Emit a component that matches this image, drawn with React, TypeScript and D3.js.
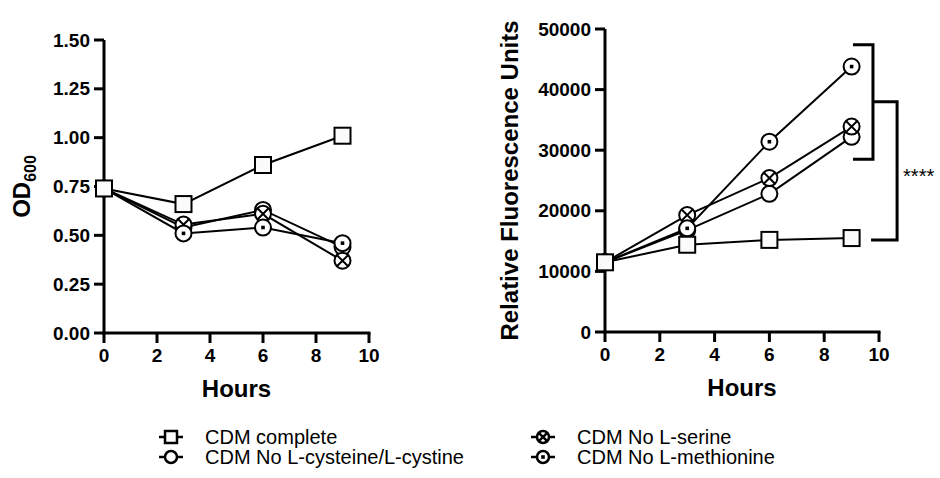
import React, { useRef, useEffect } from "react";
import * as d3 from "d3";

// time points (hours)
const hours = [0, 3, 6, 9];

// OD600 panel
const odComplete = [0.74, 0.66, 0.86, 1.01];
const odNoCys = [0.74, 0.54, 0.63, 0.44];
const odNoSer = [0.74, 0.555, 0.61, 0.37];
const odNoMet = [0.74, 0.51, 0.54, 0.46];

// fluorescence panel
const rfuComplete = [11500, 14400, 15200, 15500];
const rfuNoCys = [11500, 16800, 22800, 32200];
const rfuNoSer = [11500, 19300, 25400, 33900];
const rfuNoMet = [11500, 17100, 31400, 43800];

const hourTicks = [0, 2, 4, 6, 8, 10];
const odTicks = [0, 0.25, 0.5, 0.75, 1.0, 1.25, 1.5];
const rfuTicks = [0, 10000, 20000, 30000, 40000, 50000];

const seriesNames = [
  "CDM complete",
  "CDM No L-cysteine/L-cystine",
  "CDM No L-serine",
  "CDM No L-methionine",
];
const markerTypes = ["square", "circle", "crossed", "dotted"];

// significance brackets (hours / RFU)
const bracketInner = { x0: 9.05, x1: 9.78, yTop: 47400, yBottom: 28500 };
const bracketOuter = { xTop: 9.78, xBottom: 9.71, x1: 10.66, yTop: 38000, yBottom: 15200 };
const sigLabel = "****";

const FONT = "'Liberation Sans', Arial, Helvetica, sans-serif";

function drawMarker(g, type, cx, cy, size, sw = 2) {
  const r = size / 2;
  if (type === "square") {
    g.append("rect")
      .attr("x", cx - r).attr("y", cy - r)
      .attr("width", size).attr("height", size)
      .attr("fill", "#fbfbfb").attr("stroke", "#000").attr("stroke-width", sw);
    return;
  }
  g.append("circle")
    .attr("cx", cx).attr("cy", cy).attr("r", r)
    .attr("fill", "#fff").attr("stroke", "#000").attr("stroke-width", sw);
  if (type === "crossed") {
    const d = r * 0.7;
    g.append("path")
      .attr("d", `M${cx - d},${cy - d}L${cx + d},${cy + d}M${cx - d},${cy + d}L${cx + d},${cy - d}`)
      .attr("stroke", "#000").attr("stroke-width", sw);
  }
  if (type === "dotted") {
    g.append("rect")
      .attr("x", cx - 1.8).attr("y", cy - 1.8)
      .attr("width", 3.6).attr("height", 3.6).attr("fill", "#000");
  }
}

function drawPanel(svg, opts) {
  const { x, y, ticks, fmt, series, yTitle, sub } = opts;
  const g = svg.append("g");
  const [x0, x1] = x.range();
  const [yb, yt] = y.range();

  // axes
  g.append("line").attr("x1", x0).attr("x2", x0).attr("y1", yt).attr("y2", yb + 1.5)
    .attr("stroke", "#000").attr("stroke-width", 3);
  g.append("line").attr("x1", x0 - 1.5).attr("x2", x1 + 1.5).attr("y1", yb).attr("y2", yb)
    .attr("stroke", "#000").attr("stroke-width", 3);

  ticks.forEach((t) => {
    g.append("line").attr("x1", x0 - 10).attr("x2", x0).attr("y1", y(t)).attr("y2", y(t))
      .attr("stroke", "#000").attr("stroke-width", 3);
    g.append("text").attr("x", x0 - 14).attr("y", y(t)).attr("dy", "0.35em")
      .attr("text-anchor", "end").attr("font-family", FONT).attr("font-weight", "bold")
      .attr("font-size", 19).text(fmt(t));
  });

  hourTicks.forEach((t) => {
    g.append("line").attr("x1", x(t)).attr("x2", x(t)).attr("y1", yb).attr("y2", yb + 10)
      .attr("stroke", "#000").attr("stroke-width", 3);
    g.append("text").attr("x", x(t)).attr("y", yb + 29)
      .attr("text-anchor", "middle").attr("font-family", FONT).attr("font-weight", "bold")
      .attr("font-size", 19).text(t);
  });

  g.append("text").attr("x", (x0 + x1) / 2).attr("y", yb + 64)
    .attr("text-anchor", "middle").attr("font-family", FONT).attr("font-weight", "bold")
    .attr("font-size", 24).text("Hours");

  const yt2 = g.append("text")
    .attr("transform", `translate(${opts.titleX},${(yb + yt) / 2}) rotate(-90)`)
    .attr("text-anchor", "middle").attr("font-family", FONT).attr("font-weight", "bold")
    .attr("font-size", 24);
  yt2.append("tspan").text(yTitle);
  if (sub) yt2.append("tspan").attr("font-size", 16).attr("dy", 6).text(sub);

  const line = d3.line().x((d, i) => x(hours[i])).y((d) => y(d));

  // draw order: open, crossed, dotted, then complete on top
  const order = [1, 2, 3, 0];
  order.forEach((si) => {
    g.append("path").datum(series[si]).attr("d", line)
      .attr("fill", "none").attr("stroke", "#000").attr("stroke-width", 2);
  });
  order.forEach((si) => {
    series[si].forEach((v, i) => drawMarker(g, markerTypes[si], x(hours[i]), y(v), 16));
  });
  return g;
}

const App = () => {
  const svgRef = useRef(null);

  useEffect(() => {
    const svg = d3.select(svgRef.current);
    svg.selectAll("*").remove();

    const xL = d3.scaleLinear().domain([0, 10]).range([104, 369]);
    const yL = d3.scaleLinear().domain([0, 1.5]).range([333, 40]);
    drawPanel(svg, {
      x: xL, y: yL, ticks: odTicks, fmt: d3.format(".2f"),
      series: [odComplete, odNoCys, odNoSer, odNoMet],
      yTitle: "OD", sub: "600", titleX: 30,
    });

    const xR = d3.scaleLinear().domain([0, 10]).range([605, 879]);
    const yR = d3.scaleLinear().domain([0, 50000]).range([332, 29]);
    drawPanel(svg, {
      x: xR, y: yR, ticks: rfuTicks, fmt: (d) => String(d),
      series: [rfuComplete, rfuNoCys, rfuNoSer, rfuNoMet],
      yTitle: "Relative Fluorescence Units", titleX: 518,
    });

    // brackets
    const b = svg.append("g").attr("fill", "none").attr("stroke", "#000").attr("stroke-width", 3);
    b.append("path").attr("d",
      `M${xR(bracketInner.x0)},${yR(bracketInner.yTop)}H${xR(bracketInner.x1)}V${yR(bracketInner.yBottom)}H${xR(bracketInner.x0)}`);
    b.append("path").attr("d",
      `M${xR(bracketOuter.xTop)},${yR(bracketOuter.yTop)}H${xR(bracketOuter.x1)}V${yR(bracketOuter.yBottom)}H${xR(bracketOuter.xBottom)}`);
    svg.append("text")
      .attr("x", xR(bracketOuter.x1) + 6)
      .attr("y", (yR(bracketOuter.yTop) + yR(bracketOuter.yBottom)) / 2 + 12)
      .attr("font-family", FONT).attr("font-size", 20).text(sigLabel);

    // legend
    const leg = svg.append("g");
    const legCols = [171, 543];
    const legRows = [437, 457];
    seriesNames.forEach((name, i) => {
      const cx = legCols[i >> 1];
      const cy = legRows[i % 2];
      leg.append("line").attr("x1", cx - 12).attr("x2", cx + 12).attr("y1", cy).attr("y2", cy)
        .attr("stroke", "#000").attr("stroke-width", 2.5);
      drawMarker(leg, markerTypes[i], cx, cy, 12, 2.5);
      leg.append("text").attr("x", cx + 34).attr("y", cy).attr("dy", "0.36em")
        .attr("font-family", FONT).attr("font-size", 20).text(name);
    });
  }, []);

  return (
    <div style={{ position: "absolute", left: 0, top: 0 }}>
      <svg ref={svgRef} width={940} height={478} style={{ display: "block", background: "#fff" }} />
    </div>
  );
};

export default App;
